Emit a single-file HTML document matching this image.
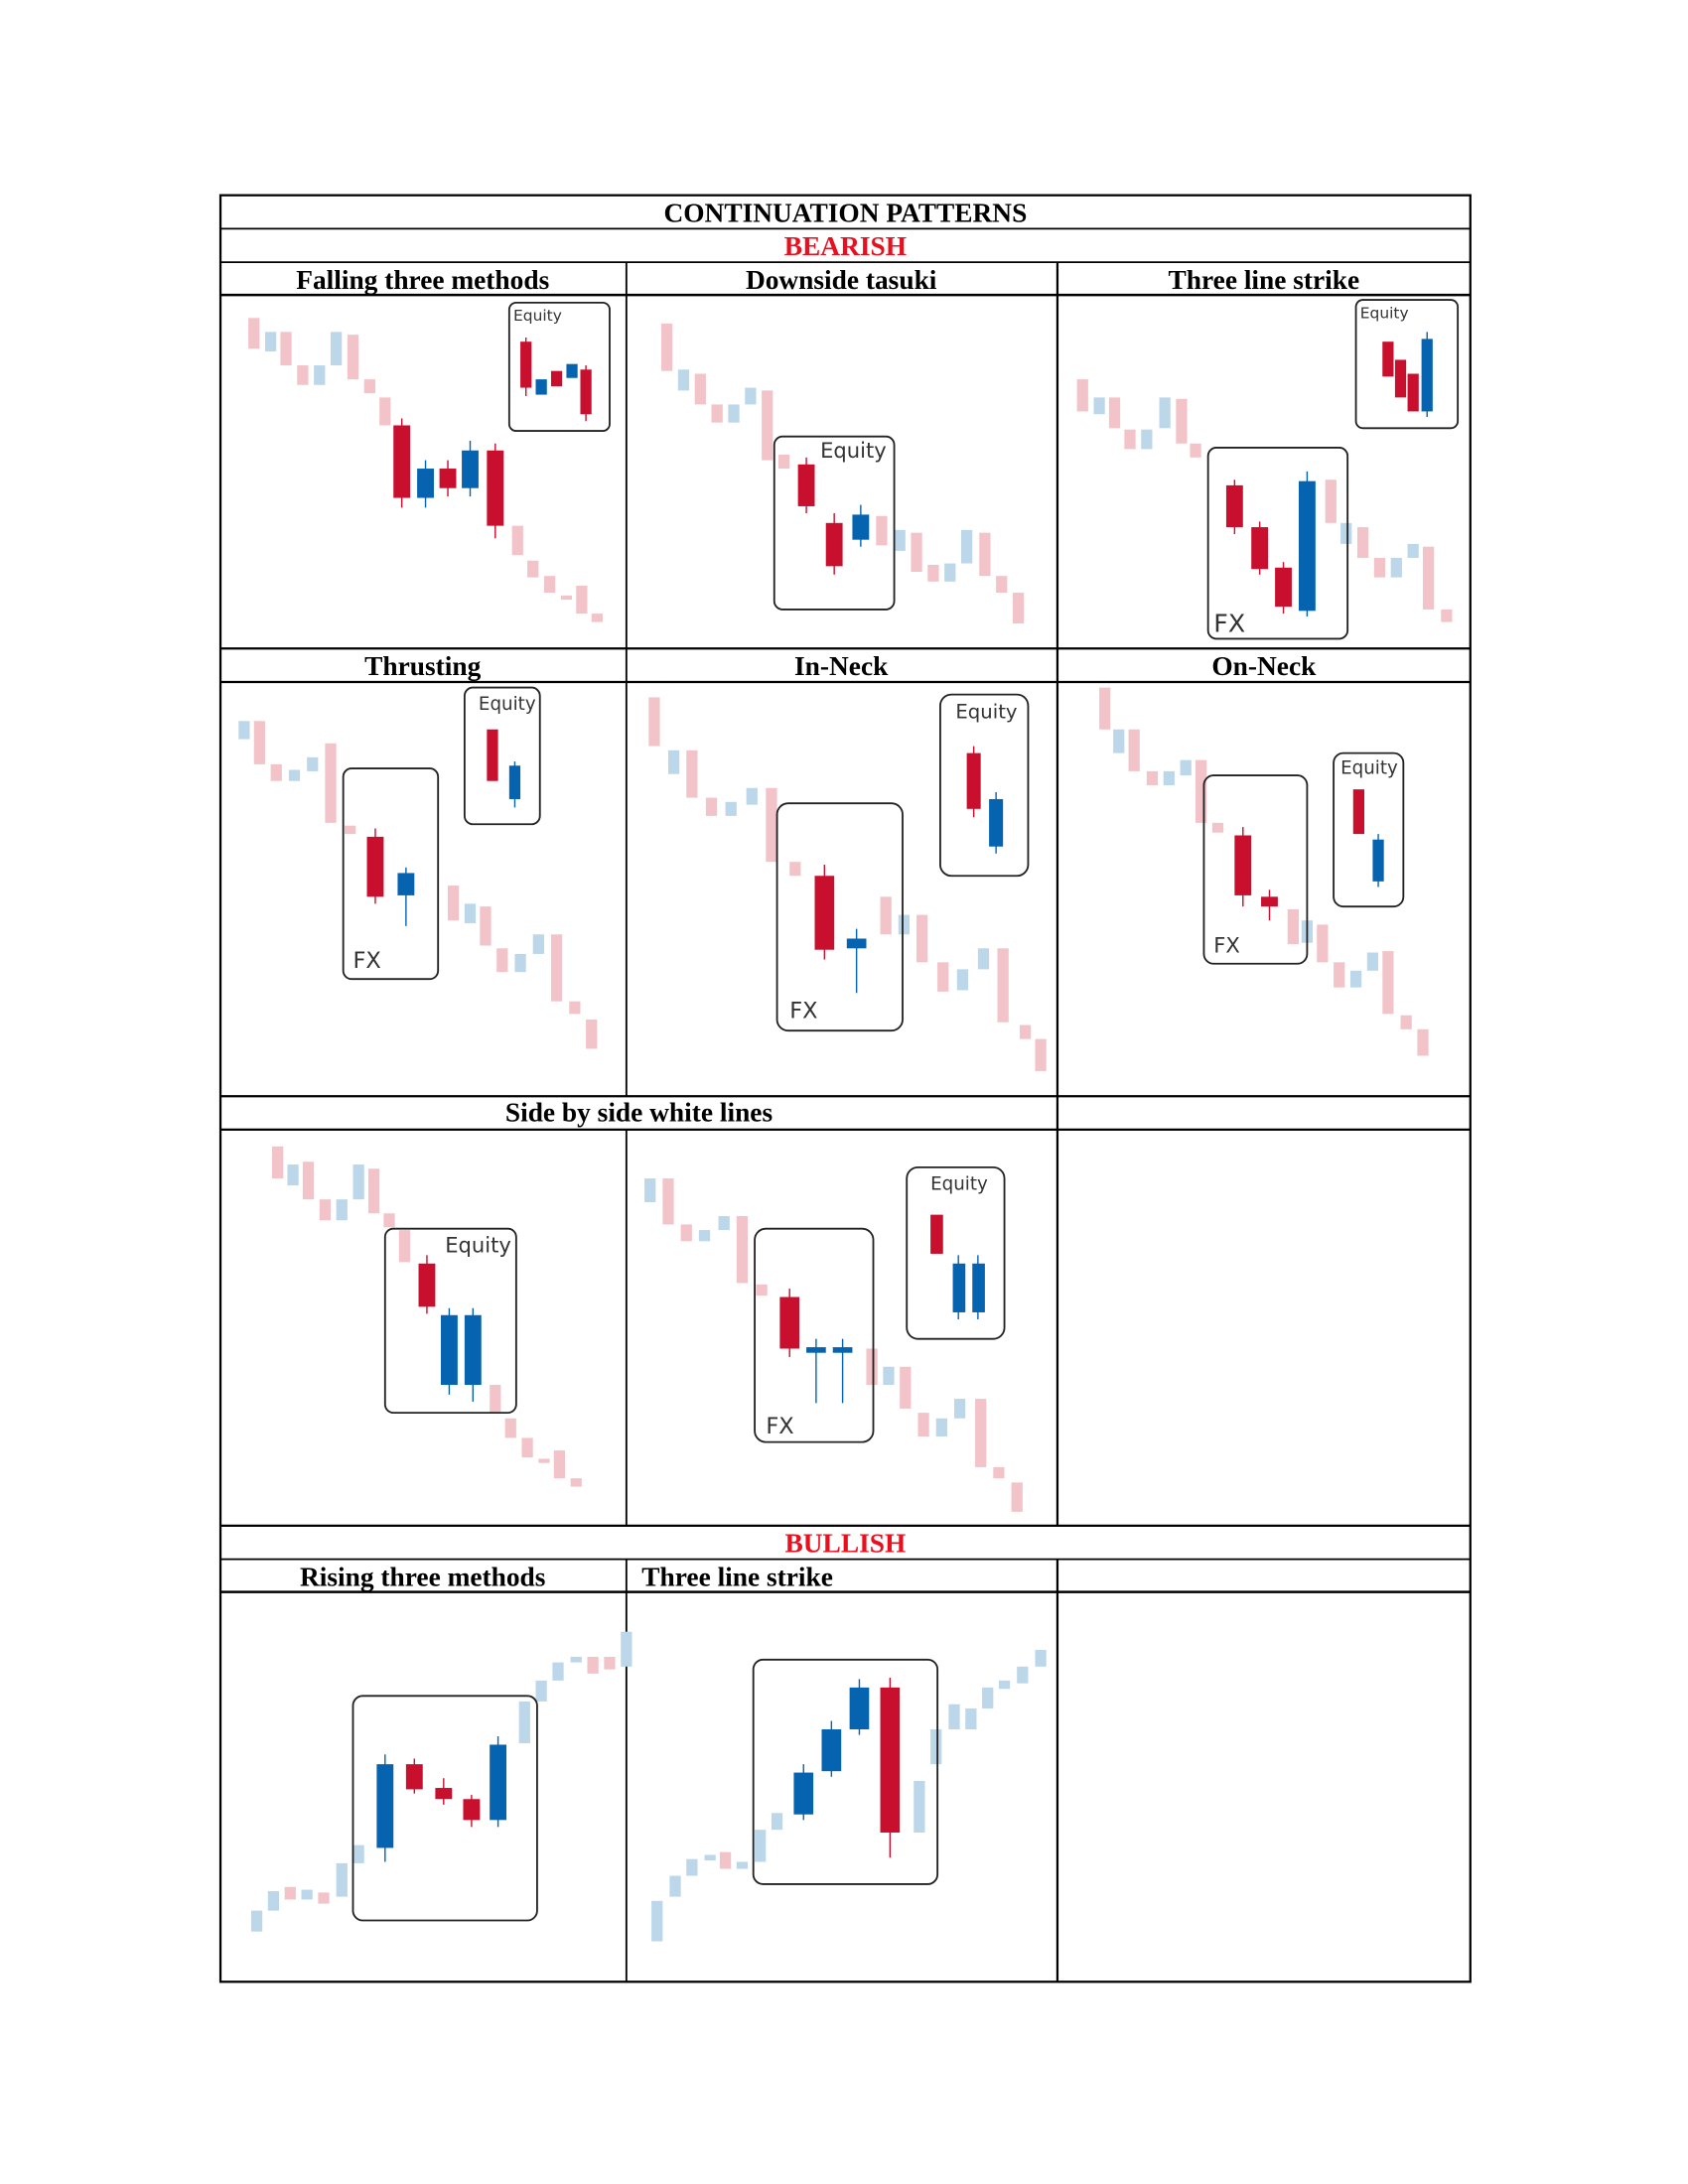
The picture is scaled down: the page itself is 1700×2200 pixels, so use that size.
<!DOCTYPE html>
<html><head><meta charset="utf-8"><style>
html,body{margin:0;padding:0;background:#fff}
svg{display:block}
.h{font-family:"Liberation Serif",serif;font-weight:bold;font-size:19.5px;fill:#000}
.e{font-family:"DejaVu Sans","Liberation Sans",sans-serif;fill:#333}
.lr{fill:#f2c3c8}.lb{fill:#bcd6ea}.R{fill:#c8102e}.B{fill:#0563b0}
.wlr{stroke:#f2c3c8}.wlb{stroke:#bcd6ea}.wR{stroke:#c8102e}.wB{stroke:#0563b0}
.box{fill:none;stroke:#222;stroke-width:1.3}
</style></head><body>
<svg width="1700" height="2200" viewBox="0 0 1210 1566" xmlns="http://www.w3.org/2000/svg">
<g stroke="#000" fill="none">
<rect x="158" y="140" width="896" height="1281" stroke-width="1.6"/>
<line x1="158" y1="164" x2="1054" y2="164" stroke-width="1.3"/>
<line x1="158" y1="188" x2="1054" y2="188" stroke-width="1.3"/>
<line x1="158" y1="211.5" x2="1054" y2="211.5" stroke-width="1.8"/>
<line x1="158" y1="465" x2="1054" y2="465" stroke-width="1.6"/>
<line x1="158" y1="489" x2="1054" y2="489" stroke-width="1.6"/>
<line x1="158" y1="786" x2="1054" y2="786" stroke-width="1.6"/>
<line x1="158" y1="810" x2="1054" y2="810" stroke-width="1.6"/>
<line x1="158" y1="1094" x2="1054" y2="1094" stroke-width="1.6"/>
<line x1="158" y1="1118" x2="1054" y2="1118" stroke-width="1.3"/>
<line x1="158" y1="1141.5" x2="1054" y2="1141.5" stroke-width="1.8"/>
<line x1="449" y1="188" x2="449" y2="786" stroke-width="1.3"/>
<line x1="758" y1="188" x2="758" y2="1094" stroke-width="1.6"/>
<line x1="449" y1="810" x2="449" y2="1094" stroke-width="1.3"/>
<line x1="449" y1="1118" x2="449" y2="1421" stroke-width="1.3"/>
<line x1="758" y1="1118" x2="758" y2="1421" stroke-width="1.6"/>
</g>
<text class="h" x="606" y="159" text-anchor="middle">CONTINUATION PATTERNS</text>
<text class="h" x="606" y="183" text-anchor="middle" style="fill:#e8101e">BEARISH</text>
<text class="h" x="303" y="207" text-anchor="middle">Falling three methods</text>
<text class="h" x="603" y="207" text-anchor="middle">Downside tasuki</text>
<text class="h" x="906" y="207" text-anchor="middle">Three line strike</text>
<text class="h" x="303" y="484" text-anchor="middle">Thrusting</text>
<text class="h" x="603" y="484" text-anchor="middle">In-Neck</text>
<text class="h" x="906" y="484" text-anchor="middle">On-Neck</text>
<text class="h" x="458" y="804" text-anchor="middle">Side by side white lines</text>
<text class="h" x="606" y="1113" text-anchor="middle" style="fill:#e8101e">BULLISH</text>
<text class="h" x="303" y="1137" text-anchor="middle">Rising three methods</text>
<text class="h" x="460" y="1137">Three line strike</text>

<g stroke-width="1">
<rect class="lr" x="178" y="228" width="8" height="22"/><rect class="lb" x="190" y="238" width="8" height="14"/><rect class="lr" x="201" y="238" width="8" height="24"/><rect class="lr" x="213" y="262" width="8" height="14"/><rect class="lb" x="225" y="262" width="8" height="14"/><rect class="lb" x="237" y="238" width="8" height="24"/><rect class="lr" x="249" y="240" width="8" height="32"/><rect class="lr" x="261" y="272" width="8" height="10"/><rect class="lr" x="272" y="285" width="8" height="20"/>
<line class="wR" x1="288" y1="300" x2="288" y2="364"/><rect class="R" x="282" y="305" width="12" height="52"/>
<line class="wB" x1="305" y1="330" x2="305" y2="364"/><rect class="B" x="299" y="336" width="12" height="21"/>
<line class="wR" x1="321" y1="330" x2="321" y2="356"/><rect class="R" x="315" y="336" width="12" height="14"/>
<line class="wB" x1="337" y1="316" x2="337" y2="356"/><rect class="B" x="331" y="323" width="12" height="27"/>
<line class="wR" x1="355" y1="318" x2="355" y2="386"/><rect class="R" x="349" y="323" width="12" height="54"/>
<rect class="lr" x="367" y="377" width="8" height="21"/><rect class="lr" x="378" y="402" width="8" height="12"/><rect class="lr" x="390" y="413" width="8" height="12"/><rect class="lr" x="402" y="427" width="8" height="3"/><rect class="lr" x="413" y="420" width="8" height="20"/><rect class="lr" x="424" y="440" width="8" height="6"/>
<rect class="box" x="365" y="217" width="72" height="92" rx="5"/>
<text class="e" x="368" y="230" font-size="11">Equity</text>
<line class="wR" x1="377" y1="242" x2="377" y2="284"/><rect class="R" x="373" y="245" width="8" height="33"/>
<rect class="B" x="384" y="272" width="8" height="11"/><rect class="R" x="395" y="266" width="8" height="11"/><rect class="B" x="406" y="261" width="8" height="10"/>
<line class="wR" x1="420" y1="262" x2="420" y2="302"/><rect class="R" x="416" y="265" width="8" height="32"/>
</g>

<g>
<rect class="lr" x="474" y="232" width="8" height="34"/><rect class="lb" x="486" y="265" width="8" height="15"/><rect class="lr" x="498" y="268" width="8" height="22"/><rect class="lr" x="510" y="290" width="8" height="13"/><rect class="lb" x="522" y="290" width="8" height="13"/><rect class="lb" x="534" y="278" width="8" height="12"/><rect class="lr" x="546" y="280" width="8" height="50"/>
<rect class="lr" x="558" y="326" width="8" height="10"/>
<line class="wR" x1="578" y1="328" x2="578" y2="368"/><rect class="R" x="572" y="333" width="12" height="30"/>
<line class="wR" x1="598" y1="368" x2="598" y2="412"/><rect class="R" x="592" y="375" width="12" height="31"/>
<line class="wB" x1="617" y1="362" x2="617" y2="392"/><rect class="B" x="611" y="369" width="12" height="18"/>
<rect class="lr" x="628" y="370" width="8" height="21"/><rect class="lb" x="641" y="380" width="8" height="15"/><rect class="lr" x="653" y="382" width="8" height="28"/><rect class="lr" x="665" y="405" width="8" height="12"/><rect class="lb" x="677" y="404" width="8" height="13"/><rect class="lb" x="689" y="380" width="8" height="24"/><rect class="lr" x="702" y="382" width="8" height="31"/><rect class="lr" x="714" y="413" width="8" height="12"/><rect class="lr" x="726" y="425" width="8" height="22"/>
<rect class="box" x="555" y="313" width="86" height="124" rx="6"/>
<text class="e" x="588" y="328" font-size="15">Equity</text>
</g>

<g>
<rect class="lr" x="772" y="272" width="8" height="23"/><rect class="lb" x="784" y="285" width="8" height="12"/><rect class="lr" x="795" y="285" width="8" height="22"/><rect class="lr" x="806" y="308" width="8" height="14"/><rect class="lb" x="818" y="308" width="8" height="14"/><rect class="lb" x="831" y="285" width="8" height="22"/><rect class="lr" x="843" y="286" width="8" height="32"/><rect class="lr" x="853" y="318" width="8" height="10"/>
<line class="wR" x1="885" y1="344" x2="885" y2="383"/><rect class="R" x="879" y="348" width="12" height="30"/>
<line class="wR" x1="903" y1="374" x2="903" y2="412"/><rect class="R" x="897" y="378" width="12" height="30"/>
<line class="wR" x1="920" y1="403" x2="920" y2="440"/><rect class="R" x="914" y="407" width="12" height="28"/>
<line class="wB" x1="937" y1="338" x2="937" y2="442"/><rect class="B" x="931" y="345" width="12" height="93"/>
<rect class="lr" x="950" y="344" width="8" height="31"/><rect class="lb" x="961" y="375" width="8" height="15"/><rect class="lr" x="973" y="378" width="8" height="22"/><rect class="lr" x="985" y="400" width="8" height="14"/><rect class="lb" x="997" y="400" width="8" height="14"/><rect class="lb" x="1009" y="390" width="8" height="10"/><rect class="lr" x="1020" y="392" width="8" height="45"/><rect class="lr" x="1033" y="437" width="8" height="9"/>
<rect class="box" x="866" y="321" width="100" height="137" rx="6"/>
<text class="e" x="870" y="453" font-size="18">FX</text>
<rect class="box" x="972" y="215" width="73" height="92" rx="5"/>
<text class="e" x="975" y="228" font-size="11">Equity</text>
<rect class="R" x="991" y="245" width="8" height="25"/><rect class="R" x="1000" y="258" width="8" height="27"/><rect class="R" x="1009" y="268" width="8" height="27"/>
<line class="wB" x1="1023" y1="238" x2="1023" y2="299"/><rect class="B" x="1019" y="243" width="8" height="52"/>
</g>

<g>
<rect class="lb" x="171" y="517" width="8" height="13"/><rect class="lr" x="182" y="517" width="8" height="31"/><rect class="lr" x="194" y="548" width="8" height="12"/><rect class="lb" x="207" y="552" width="8" height="8"/><rect class="lb" x="220" y="543" width="8" height="10"/><rect class="lr" x="233" y="533" width="8" height="57"/><rect class="lr" x="247" y="592" width="8" height="6"/>
<line class="wR" x1="269" y1="594" x2="269" y2="648"/><rect class="R" x="263" y="600" width="12" height="43"/>
<line class="wB" x1="291" y1="622" x2="291" y2="664"/><rect class="B" x="285" y="626" width="12" height="16"/>
<rect class="lr" x="321" y="635" width="8" height="25"/><rect class="lb" x="333" y="648" width="8" height="14"/><rect class="lr" x="344" y="650" width="8" height="28"/><rect class="lr" x="356" y="680" width="8" height="17"/><rect class="lb" x="369" y="684" width="8" height="13"/><rect class="lb" x="382" y="670" width="8" height="14"/><rect class="lr" x="395" y="670" width="8" height="48"/><rect class="lr" x="408" y="718" width="8" height="9"/><rect class="lr" x="420" y="731" width="8" height="21"/>
<rect class="box" x="246" y="551" width="68" height="151" rx="6"/>
<text class="e" x="253" y="694" font-size="16">FX</text>
<rect class="box" x="333" y="493" width="54" height="98" rx="6"/>
<text class="e" x="343" y="509" font-size="13">Equity</text>
<rect class="R" x="349" y="523" width="8" height="37"/><line class="wB" x1="369" y1="546" x2="369" y2="579"/><rect class="B" x="365" y="549" width="8" height="24"/>
</g>

<g>
<rect class="lr" x="465" y="500" width="8" height="35"/><rect class="lb" x="479" y="538" width="8" height="17"/><rect class="lr" x="492" y="538" width="8" height="34"/><rect class="lr" x="506" y="572" width="8" height="13"/><rect class="lb" x="520" y="575" width="8" height="10"/><rect class="lb" x="535" y="565" width="8" height="12"/><rect class="lr" x="549" y="565" width="8" height="53"/><rect class="lr" x="566" y="618" width="8" height="10"/>
<line class="wR" x1="591" y1="620" x2="591" y2="688"/><rect class="R" x="584" y="628" width="14" height="53"/>
<line class="wB" x1="614" y1="666" x2="614" y2="712"/><rect class="B" x="607" y="673" width="14" height="7"/>
<rect class="lr" x="631" y="643" width="8" height="27"/><rect class="lb" x="644" y="656" width="8" height="14"/><rect class="lr" x="657" y="656" width="8" height="34"/><rect class="lr" x="672" y="690" width="8" height="21"/><rect class="lb" x="686" y="695" width="8" height="15"/><rect class="lb" x="701" y="680" width="8" height="15"/><rect class="lr" x="715" y="680" width="8" height="53"/><rect class="lr" x="731" y="735" width="8" height="10"/><rect class="lr" x="742" y="745" width="8" height="23"/>
<rect class="box" x="557" y="576" width="90" height="163" rx="8"/>
<text class="e" x="566" y="730" font-size="16">FX</text>
<rect class="box" x="674" y="498" width="63" height="130" rx="8"/>
<text class="e" x="685" y="515" font-size="14">Equity</text>
<line class="wR" x1="698" y1="535" x2="698" y2="586"/><rect class="R" x="693" y="540" width="10" height="40"/>
<line class="wB" x1="714" y1="568" x2="714" y2="612"/><rect class="B" x="709" y="573" width="10" height="34"/>
</g>

<g>
<rect class="lr" x="788" y="493" width="8" height="30"/><rect class="lb" x="798" y="523" width="8" height="17"/><rect class="lr" x="809" y="523" width="8" height="30"/><rect class="lr" x="822" y="553" width="8" height="10"/><rect class="lb" x="834" y="553" width="8" height="10"/><rect class="lb" x="846" y="545" width="8" height="11"/><rect class="lr" x="857" y="545" width="8" height="45"/><rect class="lr" x="869" y="590" width="8" height="7"/>
<line class="wR" x1="891" y1="593" x2="891" y2="650"/><rect class="R" x="885" y="599" width="12" height="43"/>
<line class="wR" x1="910" y1="638" x2="910" y2="660"/><rect class="R" x="904" y="643" width="12" height="7"/>
<rect class="lr" x="923" y="652" width="8" height="25"/><rect class="lb" x="933" y="660" width="8" height="16"/><rect class="lr" x="944" y="663" width="8" height="27"/><rect class="lr" x="956" y="690" width="8" height="18"/><rect class="lb" x="968" y="696" width="8" height="12"/><rect class="lb" x="980" y="683" width="8" height="13"/><rect class="lr" x="991" y="682" width="8" height="45"/><rect class="lr" x="1004" y="728" width="8" height="10"/><rect class="lr" x="1016" y="738" width="8" height="19"/>
<rect class="box" x="863" y="556" width="74" height="135" rx="7"/>
<text class="e" x="870" y="683" font-size="15">FX</text>
<rect class="box" x="956" y="540" width="50" height="110" rx="7"/>
<text class="e" x="961" y="555" font-size="13">Equity</text>
<rect class="R" x="970" y="566" width="8" height="32"/><line class="wB" x1="988" y1="598" x2="988" y2="636"/><rect class="B" x="984" y="602" width="8" height="30"/>
</g>

<g>
<rect class="lr" x="195" y="822" width="8" height="23"/><rect class="lb" x="206" y="835" width="8" height="15"/><rect class="lr" x="217" y="833" width="8" height="27"/><rect class="lr" x="229" y="860" width="8" height="15"/><rect class="lb" x="241" y="860" width="8" height="15"/><rect class="lb" x="253" y="835" width="8" height="25"/><rect class="lr" x="264" y="838" width="8" height="32"/><rect class="lr" x="275" y="870" width="8" height="10"/><rect class="lr" x="286" y="882" width="8" height="23"/>
<line class="wR" x1="306" y1="900" x2="306" y2="942"/><rect class="R" x="300" y="906" width="12" height="31"/>
<line class="wB" x1="322" y1="938" x2="322" y2="1000"/><rect class="B" x="316" y="943" width="12" height="50"/>
<line class="wB" x1="339" y1="938" x2="339" y2="1005"/><rect class="B" x="333" y="943" width="12" height="50"/>
<rect class="lr" x="351" y="993" width="8" height="20"/><rect class="lr" x="362" y="1017" width="8" height="14"/><rect class="lr" x="374" y="1031" width="8" height="14"/><rect class="lr" x="386" y="1046" width="8" height="3"/><rect class="lr" x="397" y="1040" width="8" height="20"/><rect class="lr" x="409" y="1060" width="8" height="6"/>
<rect class="box" x="276" y="881" width="94" height="132" rx="6"/>
<text class="e" x="319" y="898" font-size="15">Equity</text>
</g>

<g>
<rect class="lb" x="462" y="845" width="8" height="17"/><rect class="lr" x="475" y="845" width="8" height="33"/><rect class="lr" x="488" y="878" width="8" height="12"/><rect class="lb" x="501" y="882" width="8" height="8"/><rect class="lb" x="515" y="872" width="8" height="10"/><rect class="lr" x="528" y="872" width="8" height="48"/><rect class="lr" x="542" y="921" width="8" height="8"/>
<line class="wR" x1="566" y1="924" x2="566" y2="973"/><rect class="R" x="559" y="930" width="14" height="37"/>
<line class="wB" x1="585" y1="960" x2="585" y2="1006"/><rect class="B" x="578" y="966" width="14" height="4"/>
<line class="wB" x1="604" y1="960" x2="604" y2="1006"/><rect class="B" x="597" y="966" width="14" height="4"/>
<rect class="lr" x="621" y="967" width="8" height="26"/><rect class="lb" x="633" y="980" width="8" height="13"/><rect class="lr" x="645" y="980" width="8" height="30"/><rect class="lr" x="658" y="1013" width="8" height="17"/><rect class="lb" x="671" y="1017" width="8" height="13"/><rect class="lb" x="684" y="1003" width="8" height="14"/><rect class="lr" x="699" y="1003" width="8" height="49"/><rect class="lr" x="712" y="1052" width="8" height="8"/><rect class="lr" x="725" y="1063" width="8" height="21"/>
<rect class="box" x="541" y="881" width="85" height="153" rx="8"/>
<text class="e" x="549" y="1028" font-size="16">FX</text>
<rect class="box" x="650" y="837" width="70" height="123" rx="8"/>
<text class="e" x="667" y="853" font-size="13">Equity</text>
<rect class="R" x="667" y="871" width="9" height="28"/>
<line class="wB" x1="687" y1="900" x2="687" y2="946"/><rect class="B" x="683" y="906" width="9" height="35"/>
<line class="wB" x1="701" y1="900" x2="701" y2="946"/><rect class="B" x="697" y="906" width="9" height="35"/>
</g>

<g>
<rect class="lb" x="180" y="1370" width="8" height="15"/><rect class="lb" x="192" y="1356" width="8" height="14"/><rect class="lr" x="204" y="1353" width="8" height="9"/><rect class="lb" x="216" y="1355" width="8" height="7"/><rect class="lr" x="228" y="1357" width="8" height="8"/><rect class="lb" x="241" y="1336" width="8" height="24"/><rect class="lb" x="253" y="1323" width="8" height="13"/>
<line class="wB" x1="276" y1="1258" x2="276" y2="1335"/><rect class="B" x="270" y="1265" width="12" height="60"/>
<line class="wR" x1="297" y1="1261" x2="297" y2="1286"/><rect class="R" x="291" y="1265" width="12" height="18"/>
<line class="wR" x1="318" y1="1275" x2="318" y2="1294"/><rect class="R" x="312" y="1282" width="12" height="8"/>
<line class="wR" x1="338" y1="1287" x2="338" y2="1310"/><rect class="R" x="332" y="1290" width="12" height="15"/>
<line class="wB" x1="357" y1="1245" x2="357" y2="1310"/><rect class="B" x="351" y="1251" width="12" height="54"/>
<rect class="lb" x="372" y="1220" width="8" height="30"/><rect class="lb" x="384" y="1205" width="8" height="15"/><rect class="lb" x="396" y="1192" width="8" height="13"/><rect class="lb" x="409" y="1188" width="8" height="4"/><rect class="lr" x="421" y="1188" width="8" height="12"/><rect class="lr" x="433" y="1188" width="8" height="9"/><rect class="lb" x="445" y="1170" width="8" height="25"/>
<rect class="box" x="253" y="1216" width="132" height="161" rx="7"/>
</g>

<g>
<rect class="lb" x="467" y="1363" width="8" height="29"/><rect class="lb" x="480" y="1345" width="8" height="15"/><rect class="lb" x="492" y="1333" width="8" height="12"/><rect class="lb" x="505" y="1330" width="8" height="4"/><rect class="lr" x="516" y="1328" width="8" height="12"/><rect class="lb" x="528" y="1335" width="8" height="5"/><rect class="lb" x="541" y="1312" width="8" height="23"/><rect class="lb" x="553" y="1300" width="8" height="12"/>
<line class="wB" x1="576" y1="1265" x2="576" y2="1305"/><rect class="B" x="569" y="1271" width="14" height="30"/>
<line class="wB" x1="596" y1="1234" x2="596" y2="1274"/><rect class="B" x="589" y="1240" width="14" height="30"/>
<line class="wB" x1="616" y1="1204" x2="616" y2="1244"/><rect class="B" x="609" y="1210" width="14" height="30"/>
<line class="wR" x1="638" y1="1203" x2="638" y2="1332"/><rect class="R" x="631" y="1210" width="14" height="104"/>
<rect class="lb" x="655" y="1277" width="8" height="37"/><rect class="lb" x="667" y="1240" width="8" height="25"/><rect class="lb" x="680" y="1222" width="8" height="18"/><rect class="lb" x="692" y="1225" width="8" height="15"/><rect class="lb" x="704" y="1210" width="8" height="15"/><rect class="lb" x="716" y="1205" width="8" height="6"/><rect class="lb" x="729" y="1195" width="8" height="12"/><rect class="lb" x="742" y="1183" width="8" height="12"/>
<rect class="box" x="540" y="1190" width="132" height="161" rx="7"/>
</g>
</svg>
</body></html>
